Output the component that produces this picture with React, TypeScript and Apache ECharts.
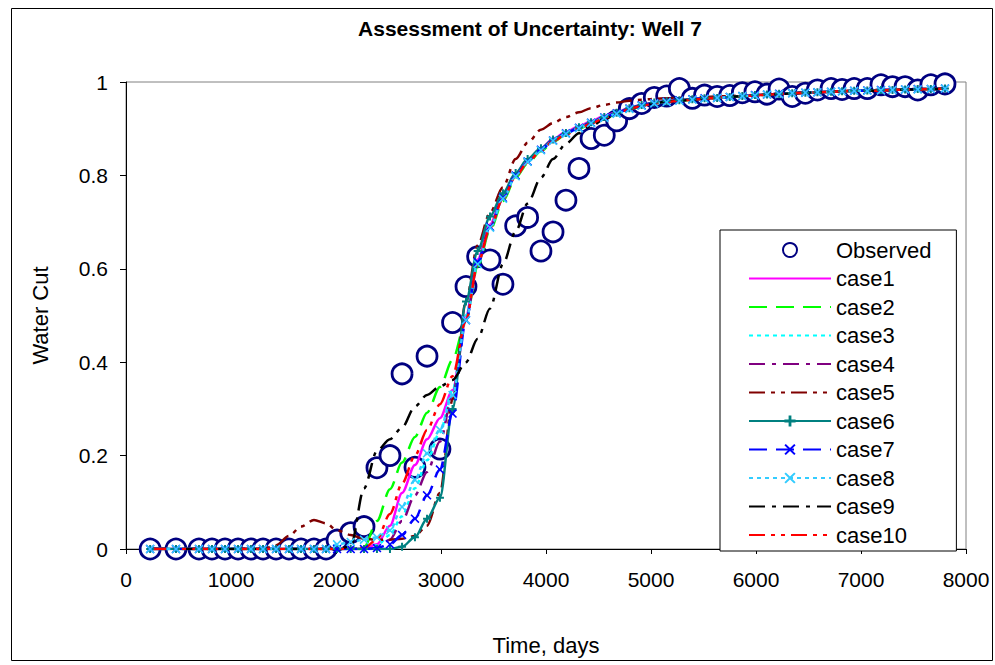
import React, { useEffect, useRef } from 'react';
import * as echarts from 'echarts';

const FONT = 'Arial, "Liberation Sans", sans-serif';

const times = [230, 476, 695, 819, 943, 1067, 1190, 1305, 1429, 1552, 1667, 1790, 1905, 2010, 2140, 2267, 2390, 2514, 2629, 2752, 2867, 2990, 3110, 3238, 3349, 3467, 3590, 3711, 3825, 3952, 4067, 4190, 4314, 4429, 4555, 4673, 4794, 4911, 5031, 5149, 5270, 5394, 5510, 5630, 5750, 5870, 5990, 6105, 6220, 6345, 6470, 6585, 6715, 6820, 6935, 7060, 7190, 7300, 7420, 7540, 7665, 7800];

const observed = [0, 0, 0, 0, 0, 0, 0, 0, 0, 0, 0, 0, 0, 0.019, 0.035, 0.048, 0.174, 0.2, 0.375, 0.175, 0.413, 0.214, 0.485, 0.562, 0.626, 0.619, 0.567, 0.692, 0.71, 0.638, 0.679, 0.747, 0.815, 0.879, 0.886, 0.917, 0.943, 0.954, 0.967, 0.97, 0.986, 0.965, 0.972, 0.969, 0.971, 0.977, 0.979, 0.974, 0.985, 0.969, 0.976, 0.983, 0.986, 0.984, 0.986, 0.986, 0.994, 0.99, 0.99, 0.983, 0.994, 0.996];

const case1 = [0, 0, 0, 0, 0, 0, 0, 0, 0, 0, 0, 0, 0, 0, 0, 0, 0.01, 0.05, 0.12, 0.18, 0.235, 0.28, 0.34, 0.5, 0.62, 0.695, 0.756, 0.803, 0.833, 0.858, 0.878, 0.893, 0.905, 0.916, 0.927, 0.935, 0.945, 0.951, 0.956, 0.959, 0.962, 0.963, 0.965, 0.966, 0.968, 0.97, 0.972, 0.973, 0.975, 0.976, 0.977, 0.978, 0.979, 0.98, 0.981, 0.982, 0.983, 0.983, 0.984, 0.985, 0.985, 0.986];
const case2 = [0, 0, 0, 0, 0, 0, 0, 0, 0, 0, 0, 0, 0, 0, 0, 0.003, 0.06, 0.128, 0.185, 0.24, 0.292, 0.347, 0.405, 0.49, 0.605, 0.683, 0.745, 0.795, 0.826, 0.852, 0.872, 0.887, 0.9, 0.911, 0.922, 0.931, 0.941, 0.948, 0.954, 0.957, 0.96, 0.962, 0.964, 0.966, 0.968, 0.97, 0.971, 0.973, 0.974, 0.976, 0.977, 0.978, 0.979, 0.98, 0.981, 0.981, 0.982, 0.983, 0.984, 0.984, 0.985, 0.986];
const case3 = [0, 0, 0, 0, 0, 0, 0, 0, 0, 0, 0, 0, 0, 0, 0, 0, 0.008, 0.03, 0.07, 0.13, 0.19, 0.25, 0.34, 0.5, 0.615, 0.69, 0.752, 0.8, 0.83, 0.855, 0.875, 0.89, 0.902, 0.913, 0.924, 0.933, 0.943, 0.95, 0.955, 0.958, 0.961, 0.963, 0.965, 0.966, 0.968, 0.97, 0.972, 0.973, 0.975, 0.976, 0.977, 0.978, 0.979, 0.98, 0.981, 0.982, 0.983, 0.983, 0.984, 0.985, 0.985, 0.986];
const case4 = [0, 0, 0, 0, 0, 0, 0, 0, 0, 0, 0, 0, 0, 0, 0, 0, 0.003, 0.02, 0.06, 0.115, 0.165, 0.23, 0.33, 0.49, 0.612, 0.689, 0.751, 0.8, 0.83, 0.855, 0.875, 0.89, 0.902, 0.913, 0.924, 0.933, 0.943, 0.95, 0.955, 0.958, 0.961, 0.963, 0.965, 0.966, 0.968, 0.97, 0.972, 0.973, 0.975, 0.976, 0.977, 0.978, 0.979, 0.98, 0.981, 0.982, 0.983, 0.983, 0.984, 0.985, 0.985, 0.986];
const case5 = [0, 0, 0, 0, 0, 0, 0, 0, 0.008, 0.028, 0.048, 0.062, 0.055, 0.04, 0.03, 0.022, 0.02, 0.02, 0.022, 0.028, 0.05, 0.12, 0.32, 0.53, 0.65, 0.72, 0.775, 0.835, 0.87, 0.898, 0.912, 0.925, 0.935, 0.944, 0.951, 0.956, 0.96, 0.962, 0.964, 0.965, 0.966, 0.967, 0.968, 0.969, 0.97, 0.971, 0.972, 0.973, 0.975, 0.976, 0.977, 0.978, 0.979, 0.98, 0.981, 0.982, 0.983, 0.983, 0.984, 0.985, 0.985, 0.986];
const case6 = [0, 0, 0, 0, 0, 0, 0, 0, 0, 0, 0, 0, 0, 0, 0, 0, 0, 0, 0.005, 0.025, 0.065, 0.11, 0.3, 0.53, 0.638, 0.712, 0.762, 0.805, 0.835, 0.858, 0.877, 0.891, 0.903, 0.914, 0.925, 0.934, 0.944, 0.951, 0.956, 0.959, 0.961, 0.963, 0.965, 0.966, 0.968, 0.97, 0.972, 0.973, 0.975, 0.976, 0.977, 0.978, 0.979, 0.98, 0.981, 0.982, 0.983, 0.983, 0.984, 0.985, 0.985, 0.986];
const case7 = [0, 0, 0, 0, 0, 0, 0, 0, 0, 0, 0, 0, 0, 0, 0, 0, 0.002, 0.01, 0.03, 0.065, 0.115, 0.17, 0.29, 0.49, 0.615, 0.69, 0.752, 0.8, 0.83, 0.855, 0.875, 0.89, 0.902, 0.913, 0.924, 0.933, 0.943, 0.95, 0.955, 0.958, 0.961, 0.963, 0.965, 0.966, 0.968, 0.97, 0.972, 0.973, 0.975, 0.976, 0.977, 0.978, 0.979, 0.98, 0.981, 0.982, 0.983, 0.983, 0.984, 0.985, 0.985, 0.986];
const case8 = [0, 0, 0, 0, 0, 0, 0, 0, 0, 0, 0, 0, 0, 0.01, 0.015, 0.02, 0.025, 0.04, 0.09, 0.148, 0.205, 0.255, 0.33, 0.49, 0.61, 0.688, 0.75, 0.798, 0.829, 0.854, 0.874, 0.889, 0.901, 0.912, 0.923, 0.932, 0.942, 0.949, 0.954, 0.957, 0.96, 0.962, 0.964, 0.966, 0.968, 0.97, 0.971, 0.973, 0.974, 0.976, 0.977, 0.978, 0.979, 0.98, 0.981, 0.981, 0.982, 0.983, 0.984, 0.984, 0.985, 0.986];
const case9 = [0, 0, 0, 0, 0, 0, 0, 0, 0, 0, 0, 0, 0, 0, 0.005, 0.13, 0.21, 0.235, 0.26, 0.305, 0.33, 0.348, 0.362, 0.4, 0.45, 0.515, 0.61, 0.68, 0.74, 0.795, 0.835, 0.868, 0.89, 0.906, 0.92, 0.932, 0.942, 0.949, 0.954, 0.958, 0.96, 0.962, 0.964, 0.966, 0.968, 0.97, 0.971, 0.973, 0.974, 0.976, 0.977, 0.978, 0.979, 0.98, 0.981, 0.981, 0.982, 0.983, 0.984, 0.984, 0.985, 0.986];
const case10 = [0, 0, 0, 0, 0, 0, 0, 0, 0, 0, 0, 0, 0, 0, 0, 0.002, 0.02, 0.075, 0.14, 0.2, 0.255, 0.31, 0.37, 0.49, 0.61, 0.688, 0.75, 0.798, 0.828, 0.853, 0.873, 0.888, 0.9, 0.911, 0.923, 0.932, 0.942, 0.949, 0.954, 0.957, 0.96, 0.962, 0.964, 0.966, 0.968, 0.97, 0.971, 0.973, 0.974, 0.976, 0.977, 0.978, 0.979, 0.98, 0.981, 0.981, 0.982, 0.983, 0.984, 0.984, 0.985, 0.986];

const caseNames = ['case1', 'case2', 'case3', 'case4', 'case5', 'case6', 'case7', 'case8', 'case9', 'case10'];
const caseValues = [case1, case2, case3, case4, case5, case6, case7, case8, case9, case10];
const caseColors = ['#FF00FF', '#00FF00', '#00FFFF', '#800080', '#800000', '#008080', '#0000FF', '#33CCFF', '#000000', '#FF0000'];

const PLUS = 'path://M3,0H5V3H8V5H5V8H3V5H0V3H3Z';
const CROSS = 'path://M0,1L1,0L4,3L7,0L8,1L5,4L8,7L7,8L4,5L1,8L0,7L3,4Z';

const caseDash: any[] = ['solid', [18, 9], [4, 4], [16, 7, 4, 7], [16, 6, 4, 6, 4, 6], 'solid', [18, 9], [4, 4], [16, 7, 4, 7], [16, 6, 4, 6, 4, 6]];
const caseSymbol = ['none', 'none', 'none', 'none', 'none', PLUS, CROSS, CROSS, 'none', 'none'];
const caseSymbolSize = [0, 0, 0, 0, 0, 8, 9, 9, 0, 0];

export default function App() {
  const ref = useRef<HTMLDivElement>(null);
  useEffect(() => {
    document.body.style.margin = '0';
    const chart = echarts.init(ref.current!, null, { renderer: 'svg' });
    const lineSeries = caseNames.map((name, k) => ({
      name,
      type: 'line',
      data: times.map((t, i) => [t, caseValues[k][i]]),
      smooth: 0.3,
      smoothMonotone: 'x',
      symbol: caseSymbol[k],
      symbolSize: caseSymbolSize[k],
      showSymbol: caseSymbol[k] !== 'none',
      lineStyle: { color: caseColors[k], width: 2.5, type: caseDash[k] },
      itemStyle: { color: caseColors[k] },
      z: 3,
    }));
    const legendData: any[] = [{ name: 'Observed' }].concat(
      caseNames.map((name, k) =>
        caseSymbol[k] === 'none' ? ({ name, itemStyle: { opacity: 0 } } as any) : ({ name } as any)
      )
    );
    chart.setOption({
      animation: false,
      backgroundColor: '#ffffff',
      grid: {
        left: 126,
        top: 82,
        right: 29,
        bottom: 116,
        show: true,
        borderColor: '#808080',
        borderWidth: 1,
        backgroundColor: '#ffffff',
      },
      xAxis: {
        type: 'value',
        min: 0,
        max: 8000,
        interval: 1000,
        name: 'Time, days',
        nameLocation: 'middle',
        nameGap: 85,
        nameTextStyle: { fontSize: 22, fontFamily: FONT, color: '#000' },
        axisLine: { show: true, lineStyle: { color: '#000', width: 1 } },
        axisTick: { show: true, inside: false, length: 5, lineStyle: { color: '#000' } },
        axisLabel: { fontSize: 21, fontFamily: FONT, color: '#000', margin: 20, formatter: (v: number) => String(v) },
        splitLine: { show: false },
      },
      yAxis: {
        type: 'value',
        min: 0,
        max: 1,
        interval: 0.2,
        name: 'Water Cut',
        nameLocation: 'middle',
        nameGap: 75,
        nameRotate: 90,
        nameTextStyle: { fontSize: 22, fontFamily: FONT, color: '#000' },
        axisLine: { show: true, lineStyle: { color: '#000', width: 1 } },
        axisTick: { show: true, inside: false, length: 6, lineStyle: { color: '#000' } },
        axisLabel: { fontSize: 21, fontFamily: FONT, color: '#000', margin: 18, formatter: (v: number) => String(Math.round(v * 10) / 10) },
        splitLine: { show: false },
      },
      legend: {
        orient: 'vertical',
        left: 720,
        top: 230,
        itemWidth: 82,
        itemHeight: 14,
        itemGap: 6.5,
        padding: [9, 25, 5, 28],
        borderColor: '#000',
        borderWidth: 1,
        backgroundColor: '#ffffff',
        selectedMode: false,
        textStyle: { fontSize: 22, fontFamily: FONT, color: '#000', lineHeight: 22 },
        data: legendData,
      },
      graphic: [
        {
          type: 'rect',
          shape: { x: 11.5, y: 8.5, width: 981, height: 652 },
          style: { fill: 'none', stroke: '#000', lineWidth: 1 },
          z: -10,
          silent: true,
        },
        {
          type: 'text',
          x: 530,
          y: 28,
          style: {
            text: 'Assessment of Uncertainty: Well 7',
            fontSize: 21,
            fontWeight: 'bold',
            fontFamily: FONT,
            fill: '#000',
            align: 'center',
            verticalAlign: 'middle',
          },
        },
      ],
      series: [
        {
          name: 'Observed',
          type: 'scatter',
          data: times.map((t, i) => [t, observed[i]]),
          symbol: 'circle',
          symbolSize: 20,
          itemStyle: { color: '#ffffff', borderColor: '#000080', borderWidth: 2.8, opacity: 1 },
          z: 2,
        },
        ...lineSeries,
      ],
    } as any);
    return () => chart.dispose();
  }, []);
  return <div ref={ref} style={{ width: 995, height: 665 }} />;
}
